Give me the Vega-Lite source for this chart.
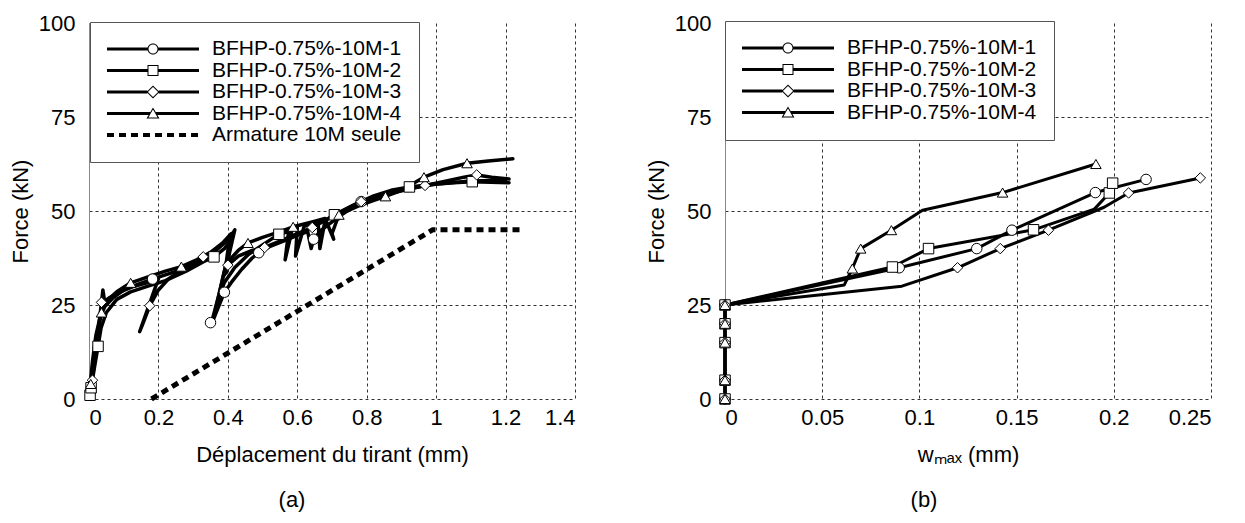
{
  "$schema": "https://vega.github.io/schema/vega-lite/v6.json",
  "background": "white",
  "padding": {"left": 9, "top": 12, "right": 5, "bottom": 5},
  "spacing": 70,
  "config": {
    "view": {"stroke": null},
    "font": "Liberation Sans",
    "axis": {
      "labelFont": "Liberation Sans", "titleFont": "Liberation Sans",
      "labelFontSize": 22, "titleFontSize": 22, "titleFontWeight": "normal",
      "labelColor": "black", "titleColor": "black",
      "ticks": false, "grid": true, "gridDash": [3, 3], "gridColor": "#333", "gridWidth": 1
    },
    "legend": {"labelFont": "Liberation Sans"}
  },
  "resolve": {
    "scale": {"shape": "independent"},
    "legend": {"shape": "independent"}
  },
  "datasets": {
    "curves": [
      {"p":"a","s":"BFHP-0.75%-10M-1","i":0,"x":0,"y":0},
      {"p":"a","s":"BFHP-0.75%-10M-1","i":1,"x":0.004,"y":4},
      {"p":"a","s":"BFHP-0.75%-10M-1","i":2,"x":0.01,"y":10},
      {"p":"a","s":"BFHP-0.75%-10M-1","i":3,"x":0.02,"y":17},
      {"p":"a","s":"BFHP-0.75%-10M-1","i":4,"x":0.03,"y":21},
      {"p":"a","s":"BFHP-0.75%-10M-1","i":5,"x":0.045,"y":24.5},
      {"p":"a","s":"BFHP-0.75%-10M-1","i":6,"x":0.07,"y":27},
      {"p":"a","s":"BFHP-0.75%-10M-1","i":7,"x":0.1,"y":29},
      {"p":"a","s":"BFHP-0.75%-10M-1","i":8,"x":0.14,"y":30.5},
      {"p":"a","s":"BFHP-0.75%-10M-1","i":9,"x":0.183,"y":31.9},
      {"p":"a","s":"BFHP-0.75%-10M-1","i":10,"x":0.22,"y":33},
      {"p":"a","s":"BFHP-0.75%-10M-1","i":11,"x":0.27,"y":34.5},
      {"p":"a","s":"BFHP-0.75%-10M-1","i":12,"x":0.32,"y":36.5},
      {"p":"a","s":"BFHP-0.75%-10M-1","i":13,"x":0.36,"y":39},
      {"p":"a","s":"BFHP-0.75%-10M-1","i":14,"x":0.39,"y":41.5},
      {"p":"a","s":"BFHP-0.75%-10M-1","i":15,"x":0.405,"y":43},
      {"p":"a","s":"BFHP-0.75%-10M-1","i":16,"x":0.395,"y":36},
      {"p":"a","s":"BFHP-0.75%-10M-1","i":17,"x":0.375,"y":28},
      {"p":"a","s":"BFHP-0.75%-10M-1","i":18,"x":0.355,"y":21},
      {"p":"a","s":"BFHP-0.75%-10M-1","i":19,"x":0.35,"y":19.5},
      {"p":"a","s":"BFHP-0.75%-10M-1","i":20,"x":0.36,"y":21.5},
      {"p":"a","s":"BFHP-0.75%-10M-1","i":21,"x":0.375,"y":25},
      {"p":"a","s":"BFHP-0.75%-10M-1","i":22,"x":0.39,"y":28.4},
      {"p":"a","s":"BFHP-0.75%-10M-1","i":23,"x":0.41,"y":31},
      {"p":"a","s":"BFHP-0.75%-10M-1","i":24,"x":0.44,"y":34.5},
      {"p":"a","s":"BFHP-0.75%-10M-1","i":25,"x":0.47,"y":37.5},
      {"p":"a","s":"BFHP-0.75%-10M-1","i":26,"x":0.489,"y":38.9},
      {"p":"a","s":"BFHP-0.75%-10M-1","i":27,"x":0.52,"y":40.5},
      {"p":"a","s":"BFHP-0.75%-10M-1","i":28,"x":0.56,"y":42},
      {"p":"a","s":"BFHP-0.75%-10M-1","i":29,"x":0.6,"y":43.5},
      {"p":"a","s":"BFHP-0.75%-10M-1","i":30,"x":0.63,"y":44.5},
      {"p":"a","s":"BFHP-0.75%-10M-1","i":31,"x":0.64,"y":40},
      {"p":"a","s":"BFHP-0.75%-10M-1","i":32,"x":0.647,"y":42.5},
      {"p":"a","s":"BFHP-0.75%-10M-1","i":33,"x":0.67,"y":45},
      {"p":"a","s":"BFHP-0.75%-10M-1","i":34,"x":0.72,"y":48.5},
      {"p":"a","s":"BFHP-0.75%-10M-1","i":35,"x":0.784,"y":52.5},
      {"p":"a","s":"BFHP-0.75%-10M-1","i":36,"x":0.85,"y":54.5},
      {"p":"a","s":"BFHP-0.75%-10M-1","i":37,"x":0.92,"y":56},
      {"p":"a","s":"BFHP-0.75%-10M-1","i":38,"x":1.0,"y":57.2},
      {"p":"a","s":"BFHP-0.75%-10M-1","i":39,"x":1.1,"y":58},
      {"p":"a","s":"BFHP-0.75%-10M-1","i":40,"x":1.2,"y":58.2},

      {"p":"a","s":"BFHP-0.75%-10M-2","i":0,"x":0,"y":0},
      {"p":"a","s":"BFHP-0.75%-10M-2","i":1,"x":0.003,"y":1},
      {"p":"a","s":"BFHP-0.75%-10M-2","i":2,"x":0.006,"y":3},
      {"p":"a","s":"BFHP-0.75%-10M-2","i":3,"x":0.015,"y":8},
      {"p":"a","s":"BFHP-0.75%-10M-2","i":4,"x":0.026,"y":14},
      {"p":"a","s":"BFHP-0.75%-10M-2","i":5,"x":0.035,"y":19},
      {"p":"a","s":"BFHP-0.75%-10M-2","i":6,"x":0.05,"y":23},
      {"p":"a","s":"BFHP-0.75%-10M-2","i":7,"x":0.08,"y":26.5},
      {"p":"a","s":"BFHP-0.75%-10M-2","i":8,"x":0.12,"y":28.5},
      {"p":"a","s":"BFHP-0.75%-10M-2","i":9,"x":0.17,"y":30},
      {"p":"a","s":"BFHP-0.75%-10M-2","i":10,"x":0.22,"y":31.5},
      {"p":"a","s":"BFHP-0.75%-10M-2","i":11,"x":0.28,"y":34},
      {"p":"a","s":"BFHP-0.75%-10M-2","i":12,"x":0.33,"y":36.5},
      {"p":"a","s":"BFHP-0.75%-10M-2","i":13,"x":0.36,"y":37.8},
      {"p":"a","s":"BFHP-0.75%-10M-2","i":14,"x":0.39,"y":40},
      {"p":"a","s":"BFHP-0.75%-10M-2","i":15,"x":0.41,"y":42.5},
      {"p":"a","s":"BFHP-0.75%-10M-2","i":16,"x":0.415,"y":44},
      {"p":"a","s":"BFHP-0.75%-10M-2","i":17,"x":0.4,"y":38},
      {"p":"a","s":"BFHP-0.75%-10M-2","i":18,"x":0.38,"y":30},
      {"p":"a","s":"BFHP-0.75%-10M-2","i":19,"x":0.365,"y":24},
      {"p":"a","s":"BFHP-0.75%-10M-2","i":20,"x":0.37,"y":26},
      {"p":"a","s":"BFHP-0.75%-10M-2","i":21,"x":0.39,"y":31},
      {"p":"a","s":"BFHP-0.75%-10M-2","i":22,"x":0.42,"y":35},
      {"p":"a","s":"BFHP-0.75%-10M-2","i":23,"x":0.46,"y":38.5},
      {"p":"a","s":"BFHP-0.75%-10M-2","i":24,"x":0.5,"y":41},
      {"p":"a","s":"BFHP-0.75%-10M-2","i":25,"x":0.547,"y":43.8},
      {"p":"a","s":"BFHP-0.75%-10M-2","i":26,"x":0.575,"y":44.5},
      {"p":"a","s":"BFHP-0.75%-10M-2","i":27,"x":0.565,"y":37},
      {"p":"a","s":"BFHP-0.75%-10M-2","i":28,"x":0.585,"y":45},
      {"p":"a","s":"BFHP-0.75%-10M-2","i":29,"x":0.6,"y":45.5},
      {"p":"a","s":"BFHP-0.75%-10M-2","i":30,"x":0.595,"y":38},
      {"p":"a","s":"BFHP-0.75%-10M-2","i":31,"x":0.62,"y":46},
      {"p":"a","s":"BFHP-0.75%-10M-2","i":32,"x":0.66,"y":47},
      {"p":"a","s":"BFHP-0.75%-10M-2","i":33,"x":0.665,"y":40},
      {"p":"a","s":"BFHP-0.75%-10M-2","i":34,"x":0.68,"y":47.5},
      {"p":"a","s":"BFHP-0.75%-10M-2","i":35,"x":0.707,"y":49},
      {"p":"a","s":"BFHP-0.75%-10M-2","i":36,"x":0.76,"y":51.5},
      {"p":"a","s":"BFHP-0.75%-10M-2","i":37,"x":0.82,"y":54},
      {"p":"a","s":"BFHP-0.75%-10M-2","i":38,"x":0.87,"y":55.5},
      {"p":"a","s":"BFHP-0.75%-10M-2","i":39,"x":0.923,"y":56.4},
      {"p":"a","s":"BFHP-0.75%-10M-2","i":40,"x":0.98,"y":57},
      {"p":"a","s":"BFHP-0.75%-10M-2","i":41,"x":1.05,"y":57.5},
      {"p":"a","s":"BFHP-0.75%-10M-2","i":42,"x":1.104,"y":57.8},
      {"p":"a","s":"BFHP-0.75%-10M-2","i":43,"x":1.21,"y":57.5},

      {"p":"a","s":"BFHP-0.75%-10M-3","i":0,"x":0,"y":0},
      {"p":"a","s":"BFHP-0.75%-10M-3","i":1,"x":0.005,"y":2},
      {"p":"a","s":"BFHP-0.75%-10M-3","i":2,"x":0.01,"y":5},
      {"p":"a","s":"BFHP-0.75%-10M-3","i":3,"x":0.02,"y":14},
      {"p":"a","s":"BFHP-0.75%-10M-3","i":4,"x":0.03,"y":21},
      {"p":"a","s":"BFHP-0.75%-10M-3","i":5,"x":0.036,"y":25.7},
      {"p":"a","s":"BFHP-0.75%-10M-3","i":6,"x":0.04,"y":29},
      {"p":"a","s":"BFHP-0.75%-10M-3","i":7,"x":0.045,"y":26},
      {"p":"a","s":"BFHP-0.75%-10M-3","i":8,"x":0.06,"y":27},
      {"p":"a","s":"BFHP-0.75%-10M-3","i":9,"x":0.09,"y":28.5},
      {"p":"a","s":"BFHP-0.75%-10M-3","i":10,"x":0.13,"y":30},
      {"p":"a","s":"BFHP-0.75%-10M-3","i":11,"x":0.17,"y":31},
      {"p":"a","s":"BFHP-0.75%-10M-3","i":12,"x":0.2,"y":32},
      {"p":"a","s":"BFHP-0.75%-10M-3","i":13,"x":0.146,"y":17.9},
      {"p":"a","s":"BFHP-0.75%-10M-3","i":14,"x":0.155,"y":20},
      {"p":"a","s":"BFHP-0.75%-10M-3","i":15,"x":0.175,"y":24.8},
      {"p":"a","s":"BFHP-0.75%-10M-3","i":16,"x":0.2,"y":29},
      {"p":"a","s":"BFHP-0.75%-10M-3","i":17,"x":0.23,"y":32},
      {"p":"a","s":"BFHP-0.75%-10M-3","i":18,"x":0.27,"y":34.5},
      {"p":"a","s":"BFHP-0.75%-10M-3","i":19,"x":0.329,"y":37.8},
      {"p":"a","s":"BFHP-0.75%-10M-3","i":20,"x":0.37,"y":40},
      {"p":"a","s":"BFHP-0.75%-10M-3","i":21,"x":0.41,"y":43.5},
      {"p":"a","s":"BFHP-0.75%-10M-3","i":22,"x":0.42,"y":45},
      {"p":"a","s":"BFHP-0.75%-10M-3","i":23,"x":0.405,"y":39},
      {"p":"a","s":"BFHP-0.75%-10M-3","i":24,"x":0.395,"y":33.5},
      {"p":"a","s":"BFHP-0.75%-10M-3","i":25,"x":0.4,"y":35.6},
      {"p":"a","s":"BFHP-0.75%-10M-3","i":26,"x":0.43,"y":38},
      {"p":"a","s":"BFHP-0.75%-10M-3","i":27,"x":0.47,"y":39.5},
      {"p":"a","s":"BFHP-0.75%-10M-3","i":28,"x":0.506,"y":40.3},
      {"p":"a","s":"BFHP-0.75%-10M-3","i":29,"x":0.55,"y":42},
      {"p":"a","s":"BFHP-0.75%-10M-3","i":30,"x":0.6,"y":44},
      {"p":"a","s":"BFHP-0.75%-10M-3","i":31,"x":0.643,"y":45.6},
      {"p":"a","s":"BFHP-0.75%-10M-3","i":32,"x":0.7,"y":48.5},
      {"p":"a","s":"BFHP-0.75%-10M-3","i":33,"x":0.784,"y":52.5},
      {"p":"a","s":"BFHP-0.75%-10M-3","i":34,"x":0.86,"y":54.5},
      {"p":"a","s":"BFHP-0.75%-10M-3","i":35,"x":0.93,"y":56},
      {"p":"a","s":"BFHP-0.75%-10M-3","i":36,"x":0.968,"y":56.8},
      {"p":"a","s":"BFHP-0.75%-10M-3","i":37,"x":1.03,"y":58},
      {"p":"a","s":"BFHP-0.75%-10M-3","i":38,"x":1.08,"y":59},
      {"p":"a","s":"BFHP-0.75%-10M-3","i":39,"x":1.117,"y":59.6},
      {"p":"a","s":"BFHP-0.75%-10M-3","i":40,"x":1.16,"y":59},
      {"p":"a","s":"BFHP-0.75%-10M-3","i":41,"x":1.21,"y":58.5},

      {"p":"a","s":"BFHP-0.75%-10M-4","i":0,"x":0,"y":0},
      {"p":"a","s":"BFHP-0.75%-10M-4","i":1,"x":0.005,"y":4},
      {"p":"a","s":"BFHP-0.75%-10M-4","i":2,"x":0.012,"y":10},
      {"p":"a","s":"BFHP-0.75%-10M-4","i":3,"x":0.02,"y":15},
      {"p":"a","s":"BFHP-0.75%-10M-4","i":4,"x":0.028,"y":19},
      {"p":"a","s":"BFHP-0.75%-10M-4","i":5,"x":0.036,"y":23},
      {"p":"a","s":"BFHP-0.75%-10M-4","i":6,"x":0.05,"y":26},
      {"p":"a","s":"BFHP-0.75%-10M-4","i":7,"x":0.08,"y":28.5},
      {"p":"a","s":"BFHP-0.75%-10M-4","i":8,"x":0.12,"y":30.9},
      {"p":"a","s":"BFHP-0.75%-10M-4","i":9,"x":0.17,"y":32.5},
      {"p":"a","s":"BFHP-0.75%-10M-4","i":10,"x":0.22,"y":34},
      {"p":"a","s":"BFHP-0.75%-10M-4","i":11,"x":0.266,"y":35.2},
      {"p":"a","s":"BFHP-0.75%-10M-4","i":12,"x":0.31,"y":37},
      {"p":"a","s":"BFHP-0.75%-10M-4","i":13,"x":0.35,"y":39},
      {"p":"a","s":"BFHP-0.75%-10M-4","i":14,"x":0.385,"y":41.5},
      {"p":"a","s":"BFHP-0.75%-10M-4","i":15,"x":0.41,"y":44},
      {"p":"a","s":"BFHP-0.75%-10M-4","i":16,"x":0.4,"y":37},
      {"p":"a","s":"BFHP-0.75%-10M-4","i":17,"x":0.39,"y":33},
      {"p":"a","s":"BFHP-0.75%-10M-4","i":18,"x":0.405,"y":37},
      {"p":"a","s":"BFHP-0.75%-10M-4","i":19,"x":0.43,"y":39.5},
      {"p":"a","s":"BFHP-0.75%-10M-4","i":20,"x":0.458,"y":41.5},
      {"p":"a","s":"BFHP-0.75%-10M-4","i":21,"x":0.5,"y":43},
      {"p":"a","s":"BFHP-0.75%-10M-4","i":22,"x":0.55,"y":44.5},
      {"p":"a","s":"BFHP-0.75%-10M-4","i":23,"x":0.588,"y":45.8},
      {"p":"a","s":"BFHP-0.75%-10M-4","i":24,"x":0.64,"y":47},
      {"p":"a","s":"BFHP-0.75%-10M-4","i":25,"x":0.68,"y":48},
      {"p":"a","s":"BFHP-0.75%-10M-4","i":26,"x":0.705,"y":42.5},
      {"p":"a","s":"BFHP-0.75%-10M-4","i":27,"x":0.7,"y":44},
      {"p":"a","s":"BFHP-0.75%-10M-4","i":28,"x":0.72,"y":49},
      {"p":"a","s":"BFHP-0.75%-10M-4","i":29,"x":0.78,"y":51.5},
      {"p":"a","s":"BFHP-0.75%-10M-4","i":30,"x":0.854,"y":53.9},
      {"p":"a","s":"BFHP-0.75%-10M-4","i":31,"x":0.9,"y":55.5},
      {"p":"a","s":"BFHP-0.75%-10M-4","i":32,"x":0.965,"y":59},
      {"p":"a","s":"BFHP-0.75%-10M-4","i":33,"x":1.02,"y":61},
      {"p":"a","s":"BFHP-0.75%-10M-4","i":34,"x":1.089,"y":62.7},
      {"p":"a","s":"BFHP-0.75%-10M-4","i":35,"x":1.15,"y":63.3},
      {"p":"a","s":"BFHP-0.75%-10M-4","i":36,"x":1.221,"y":63.9},

      {"p":"b","s":"BFHP-0.75%-10M-1","i":0,"x":0,"y":0},
      {"p":"b","s":"BFHP-0.75%-10M-1","i":1,"x":0,"y":25},
      {"p":"b","s":"BFHP-0.75%-10M-1","i":2,"x":0.0896,"y":34.9},
      {"p":"b","s":"BFHP-0.75%-10M-1","i":3,"x":0.1295,"y":40},
      {"p":"b","s":"BFHP-0.75%-10M-1","i":4,"x":0.1476,"y":44.9},
      {"p":"b","s":"BFHP-0.75%-10M-1","i":5,"x":0.1905,"y":54.9},
      {"p":"b","s":"BFHP-0.75%-10M-1","i":6,"x":0.2166,"y":58.4},

      {"p":"b","s":"BFHP-0.75%-10M-2","i":0,"x":0,"y":0},
      {"p":"b","s":"BFHP-0.75%-10M-2","i":1,"x":0,"y":25},
      {"p":"b","s":"BFHP-0.75%-10M-2","i":2,"x":0.0861,"y":35.1},
      {"p":"b","s":"BFHP-0.75%-10M-2","i":3,"x":0.1047,"y":40},
      {"p":"b","s":"BFHP-0.75%-10M-2","i":4,"x":0.1587,"y":45},
      {"p":"b","s":"BFHP-0.75%-10M-2","i":5,"x":0.19,"y":50.5},
      {"p":"b","s":"BFHP-0.75%-10M-2","i":6,"x":0.1977,"y":54.8},
      {"p":"b","s":"BFHP-0.75%-10M-2","i":7,"x":0.1994,"y":57.4},

      {"p":"b","s":"BFHP-0.75%-10M-3","i":0,"x":0,"y":0},
      {"p":"b","s":"BFHP-0.75%-10M-3","i":1,"x":0,"y":25},
      {"p":"b","s":"BFHP-0.75%-10M-3","i":2,"x":0.091,"y":30},
      {"p":"b","s":"BFHP-0.75%-10M-3","i":3,"x":0.1196,"y":34.9},
      {"p":"b","s":"BFHP-0.75%-10M-3","i":4,"x":0.1416,"y":40},
      {"p":"b","s":"BFHP-0.75%-10M-3","i":5,"x":0.1664,"y":44.9},
      {"p":"b","s":"BFHP-0.75%-10M-3","i":6,"x":0.195,"y":51},
      {"p":"b","s":"BFHP-0.75%-10M-3","i":7,"x":0.2076,"y":54.8},
      {"p":"b","s":"BFHP-0.75%-10M-3","i":8,"x":0.2445,"y":58.8},

      {"p":"b","s":"BFHP-0.75%-10M-4","i":0,"x":0,"y":0},
      {"p":"b","s":"BFHP-0.75%-10M-4","i":1,"x":0,"y":25},
      {"p":"b","s":"BFHP-0.75%-10M-4","i":2,"x":0.0613,"y":30.3},
      {"p":"b","s":"BFHP-0.75%-10M-4","i":3,"x":0.0655,"y":34.7},
      {"p":"b","s":"BFHP-0.75%-10M-4","i":4,"x":0.0698,"y":40},
      {"p":"b","s":"BFHP-0.75%-10M-4","i":5,"x":0.0856,"y":44.9},
      {"p":"b","s":"BFHP-0.75%-10M-4","i":6,"x":0.1016,"y":50.2},
      {"p":"b","s":"BFHP-0.75%-10M-4","i":7,"x":0.1428,"y":54.9},
      {"p":"b","s":"BFHP-0.75%-10M-4","i":8,"x":0.1908,"y":62.5}
    ],
    "arm": [
      {"s":"Armature 10M seule","i":0,"x":0.18,"y":0},
      {"s":"Armature 10M seule","i":1,"x":0.99,"y":45},
      {"s":"Armature 10M seule","i":2,"x":1.25,"y":45}
    ],
    "keyA": [
      {"s":"BFHP-0.75%-10M-1"},
      {"s":"BFHP-0.75%-10M-2"},
      {"s":"BFHP-0.75%-10M-3"},
      {"s":"BFHP-0.75%-10M-4"},
      {"s":"Armature 10M seule"}
    ],
    "keyB": [
      {"s":"BFHP-0.75%-10M-1"},
      {"s":"BFHP-0.75%-10M-2"},
      {"s":"BFHP-0.75%-10M-3"},
      {"s":"BFHP-0.75%-10M-4"}
    ],
    "marks": [
      {"p":"a","s":"BFHP-0.75%-10M-1","x":0.005,"y":2},
      {"p":"a","s":"BFHP-0.75%-10M-1","x":0.183,"y":31.9},
      {"p":"a","s":"BFHP-0.75%-10M-1","x":0.35,"y":20.3},
      {"p":"a","s":"BFHP-0.75%-10M-1","x":0.39,"y":28.4},
      {"p":"a","s":"BFHP-0.75%-10M-1","x":0.489,"y":38.9},
      {"p":"a","s":"BFHP-0.75%-10M-1","x":0.647,"y":42.5},
      {"p":"a","s":"BFHP-0.75%-10M-1","x":0.784,"y":52.5},
      {"p":"a","s":"BFHP-0.75%-10M-2","x":0.003,"y":1},
      {"p":"a","s":"BFHP-0.75%-10M-2","x":0.006,"y":3},
      {"p":"a","s":"BFHP-0.75%-10M-2","x":0.026,"y":14},
      {"p":"a","s":"BFHP-0.75%-10M-2","x":0.36,"y":37.8},
      {"p":"a","s":"BFHP-0.75%-10M-2","x":0.547,"y":43.8},
      {"p":"a","s":"BFHP-0.75%-10M-2","x":0.707,"y":49},
      {"p":"a","s":"BFHP-0.75%-10M-2","x":0.923,"y":56.4},
      {"p":"a","s":"BFHP-0.75%-10M-2","x":1.104,"y":57.8},
      {"p":"a","s":"BFHP-0.75%-10M-3","x":0.01,"y":5},
      {"p":"a","s":"BFHP-0.75%-10M-3","x":0.036,"y":25.7},
      {"p":"a","s":"BFHP-0.75%-10M-3","x":0.175,"y":24.8},
      {"p":"a","s":"BFHP-0.75%-10M-3","x":0.329,"y":37.8},
      {"p":"a","s":"BFHP-0.75%-10M-3","x":0.4,"y":35.6},
      {"p":"a","s":"BFHP-0.75%-10M-3","x":0.506,"y":40.3},
      {"p":"a","s":"BFHP-0.75%-10M-3","x":0.643,"y":45.6},
      {"p":"a","s":"BFHP-0.75%-10M-3","x":0.784,"y":52.5},
      {"p":"a","s":"BFHP-0.75%-10M-3","x":0.968,"y":56.8},
      {"p":"a","s":"BFHP-0.75%-10M-3","x":1.117,"y":59.6},
      {"p":"a","s":"BFHP-0.75%-10M-4","x":0.005,"y":4},
      {"p":"a","s":"BFHP-0.75%-10M-4","x":0.036,"y":23},
      {"p":"a","s":"BFHP-0.75%-10M-4","x":0.12,"y":30.9},
      {"p":"a","s":"BFHP-0.75%-10M-4","x":0.266,"y":35.2},
      {"p":"a","s":"BFHP-0.75%-10M-4","x":0.458,"y":41.5},
      {"p":"a","s":"BFHP-0.75%-10M-4","x":0.588,"y":45.8},
      {"p":"a","s":"BFHP-0.75%-10M-4","x":0.72,"y":49},
      {"p":"a","s":"BFHP-0.75%-10M-4","x":0.854,"y":53.9},
      {"p":"a","s":"BFHP-0.75%-10M-4","x":0.965,"y":59},
      {"p":"a","s":"BFHP-0.75%-10M-4","x":1.089,"y":62.7},

      {"p":"b","s":"BFHP-0.75%-10M-1","x":0,"y":0},
      {"p":"b","s":"BFHP-0.75%-10M-1","x":0,"y":5},
      {"p":"b","s":"BFHP-0.75%-10M-1","x":0,"y":15},
      {"p":"b","s":"BFHP-0.75%-10M-1","x":0,"y":20},
      {"p":"b","s":"BFHP-0.75%-10M-1","x":0,"y":25},
      {"p":"b","s":"BFHP-0.75%-10M-1","x":0.0896,"y":34.9},
      {"p":"b","s":"BFHP-0.75%-10M-1","x":0.1295,"y":40},
      {"p":"b","s":"BFHP-0.75%-10M-1","x":0.1476,"y":44.9},
      {"p":"b","s":"BFHP-0.75%-10M-1","x":0.1905,"y":54.9},
      {"p":"b","s":"BFHP-0.75%-10M-1","x":0.2166,"y":58.4},
      {"p":"b","s":"BFHP-0.75%-10M-2","x":0,"y":0},
      {"p":"b","s":"BFHP-0.75%-10M-2","x":0,"y":5},
      {"p":"b","s":"BFHP-0.75%-10M-2","x":0,"y":15},
      {"p":"b","s":"BFHP-0.75%-10M-2","x":0,"y":20},
      {"p":"b","s":"BFHP-0.75%-10M-2","x":0,"y":25},
      {"p":"b","s":"BFHP-0.75%-10M-2","x":0.0861,"y":35.1},
      {"p":"b","s":"BFHP-0.75%-10M-2","x":0.1047,"y":40},
      {"p":"b","s":"BFHP-0.75%-10M-2","x":0.1587,"y":45},
      {"p":"b","s":"BFHP-0.75%-10M-2","x":0.1977,"y":54.8},
      {"p":"b","s":"BFHP-0.75%-10M-2","x":0.1994,"y":57.4},
      {"p":"b","s":"BFHP-0.75%-10M-3","x":0,"y":0},
      {"p":"b","s":"BFHP-0.75%-10M-3","x":0,"y":5},
      {"p":"b","s":"BFHP-0.75%-10M-3","x":0,"y":15},
      {"p":"b","s":"BFHP-0.75%-10M-3","x":0,"y":20},
      {"p":"b","s":"BFHP-0.75%-10M-3","x":0,"y":25},
      {"p":"b","s":"BFHP-0.75%-10M-3","x":0.1196,"y":34.9},
      {"p":"b","s":"BFHP-0.75%-10M-3","x":0.1416,"y":40},
      {"p":"b","s":"BFHP-0.75%-10M-3","x":0.1664,"y":44.9},
      {"p":"b","s":"BFHP-0.75%-10M-3","x":0.2076,"y":54.8},
      {"p":"b","s":"BFHP-0.75%-10M-3","x":0.2445,"y":58.8},
      {"p":"b","s":"BFHP-0.75%-10M-4","x":0,"y":0},
      {"p":"b","s":"BFHP-0.75%-10M-4","x":0,"y":5},
      {"p":"b","s":"BFHP-0.75%-10M-4","x":0,"y":15},
      {"p":"b","s":"BFHP-0.75%-10M-4","x":0,"y":20},
      {"p":"b","s":"BFHP-0.75%-10M-4","x":0,"y":25},
      {"p":"b","s":"BFHP-0.75%-10M-4","x":0.0655,"y":34.7},
      {"p":"b","s":"BFHP-0.75%-10M-4","x":0.0698,"y":40},
      {"p":"b","s":"BFHP-0.75%-10M-4","x":0.0856,"y":44.9},
      {"p":"b","s":"BFHP-0.75%-10M-4","x":0.1428,"y":54.9},
      {"p":"b","s":"BFHP-0.75%-10M-4","x":0.1908,"y":62.5}
    ]
  },
  "hconcat": [
    {
      "width": 486, "height": 376,
      "title": {"text": "(a)", "orient": "bottom", "anchor": "middle", "dx": -40, "offset": 25, "fontSize": 22, "fontWeight": "normal", "font": "Liberation Sans", "color": "black"},
      "resolve": {"scale": {"shape": "independent"}, "legend": {"shape": "independent"}},
      "layer": [
        {
          "data": {"name": "curves"},
          "transform": [{"filter": "datum.p === 'a'"}],
          "mark": {"type": "line", "color": "black", "strokeWidth": 3.5, "strokeJoin": "round", "strokeCap": "round"},
          "encoding": {
            "x": {"field": "x", "type": "quantitative", "scale": {"domain": [0, 1.4], "nice": false},
              "axis": {"title": "Déplacement du tirant (mm)", "values": [0, 0.2, 0.4, 0.6, 0.8, 1, 1.2, 1.4], "format": "~g", "domain": false, "labelPadding": 8, "titlePadding": 16}},
            "y": {"field": "y", "type": "quantitative", "scale": {"domain": [0, 100], "nice": false},
              "axis": {"title": "Force (kN)", "values": [0, 25, 50, 75, 100], "domain": true, "domainColor": "#888", "domainWidth": 1, "labelPadding": 14, "titlePadding": 6,
                "gridOpacity": {"condition": {"test": "datum.value === 100", "value": 0}, "value": 1}}},
            "order": {"field": "i", "type": "quantitative"},
            "detail": {"field": "s", "type": "nominal"}
          }
        },
        {
          "data": {"name": "arm"},
          "mark": {"type": "line", "color": "black", "strokeWidth": 5, "strokeCap": "butt", "strokeDash": [7, 5]},
          "encoding": {
            "x": {"field": "x", "type": "quantitative"},
            "y": {"field": "y", "type": "quantitative"},
            "order": {"field": "i", "type": "quantitative"}
          }
        },
        {
          "data": {"name": "marks"},
          "transform": [{"filter": "datum.p === 'a'"}],
          "mark": {"type": "point", "filled": true, "fill": "white", "stroke": "black", "strokeWidth": 1, "size": 110, "opacity": 1},
          "encoding": {
            "x": {"field": "x", "type": "quantitative"},
            "y": {"field": "y", "type": "quantitative"},
            "shape": {"field": "s", "type": "nominal",
              "scale": {"domain": ["BFHP-0.75%-10M-1", "BFHP-0.75%-10M-2", "BFHP-0.75%-10M-3", "BFHP-0.75%-10M-4"], "range": ["circle", "square", "diamond", "triangle-up"]},
              "legend": null}
          }
        },
        {
          "data": {"name": "keyA"},
          "mark": {"type": "point", "filled": true, "color": "black", "opacity": 0},
          "encoding": {
            "shape": {"field": "s", "type": "nominal",
              "scale": {"domain": ["BFHP-0.75%-10M-1", "BFHP-0.75%-10M-2", "BFHP-0.75%-10M-3", "BFHP-0.75%-10M-4", "Armature 10M seule"],
                "range": [
                  "M-1,-0.0326H-0.11V0.0326H-1Z M0.11,-0.0326H1V0.0326H0.11Z M-0.1196,0A0.1196,0.1196 0 1,1 0.1196,0A0.1196,0.1196 0 1,1 -0.1196,0Z M-0.0978,0A0.0978,0.0978 0 1,0 0.0978,0A0.0978,0.0978 0 1,0 -0.0978,0Z",
                  "M-1,-0.0326H-0.11V0.0326H-1Z M0.11,-0.0326H1V0.0326H0.11Z M-0.1196,-0.1196H0.1196V0.1196H-0.1196Z M-0.0978,-0.0978V0.0978H0.0978V-0.0978Z",
                  "M-1,-0.0326H-0.125V0.0326H-1Z M0.125,-0.0326H1V0.0326H0.125Z M0,-0.1413L0.1413,0L0,0.1413L-0.1413,0Z M0,-0.1107L-0.1107,0L0,0.1107L0.1107,0Z",
                  "M-1,-0.0326H-0.066V0.0326H-1Z M0.066,-0.0326H1V0.0326H0.066Z M0,-0.1304L0.1413,0.1087L-0.1413,0.1087Z M0,-0.087L-0.1,0.087L0.1,0.087Z",
                  "M-1,-0.0435H-0.848V0.0435H-1Z M-0.739,-0.0435H-0.587V0.0435H-0.739Z M-0.478,-0.0435H-0.326V0.0435H-0.478Z M-0.217,-0.0435H-0.065V0.0435H-0.217Z M0.044,-0.0435H0.196V0.0435H0.044Z M0.305,-0.0435H0.457V0.0435H0.305Z M0.566,-0.0435H0.718V0.0435H0.566Z M0.827,-0.0435H0.979V0.0435H0.827Z"
                ]},
              "legend": {"orient": "none", "legendX": 1, "legendY": -1, "title": null, "padding": 17, "strokeColor": "#555", "fillColor": "white",
                "symbolSize": 8464, "symbolFillColor": "black", "symbolStrokeColor": "transparent", "symbolStrokeWidth": 0, "symbolOpacity": 1,
                "labelFontSize": 21, "labelColor": "black", "labelOffset": 13, "labelLimit": 400, "clipHeight": 20, "rowPadding": 0.5}}
          }
        },
        {
          "mark": {"type": "rule", "color": "black", "strokeWidth": 1.5},
          "encoding": {"x": {"datum": 1.4}}
        }
      ]
    },
    {
      "width": 486, "height": 376,
      "title": {"text": "(b)", "orient": "bottom", "anchor": "middle", "dx": -44, "offset": 25, "fontSize": 22, "fontWeight": "normal", "font": "Liberation Sans", "color": "black"},
      "resolve": {"scale": {"shape": "independent"}, "legend": {"shape": "independent"}},
      "layer": [
        {
          "data": {"name": "curves"},
          "transform": [{"filter": "datum.p === 'b'"}],
          "mark": {"type": "line", "color": "black", "strokeWidth": 3, "strokeJoin": "round"},
          "encoding": {
            "x": {"field": "x", "type": "quantitative", "scale": {"domain": [0, 0.25], "nice": false},
              "axis": {"title": "wₘₐₓ (mm)", "values": [0, 0.05, 0.1, 0.15, 0.2, 0.25], "format": "~g", "domain": false, "labelPadding": 8, "titlePadding": 16}},
            "y": {"field": "y", "type": "quantitative", "scale": {"domain": [0, 100], "nice": false},
              "axis": {"title": "Force (kN)", "values": [0, 25, 50, 75, 100], "domain": true, "domainColor": "#888", "domainWidth": 1, "labelPadding": 14, "titlePadding": 6,
                "gridOpacity": {"condition": {"test": "datum.value === 100", "value": 0}, "value": 1}}},
            "order": {"field": "i", "type": "quantitative"},
            "detail": {"field": "s", "type": "nominal"}
          }
        },
        {
          "data": {"name": "marks"},
          "transform": [{"filter": "datum.p === 'b'"}],
          "mark": {"type": "point", "filled": true, "fill": "white", "stroke": "black", "strokeWidth": 1, "size": 110, "opacity": 1},
          "encoding": {
            "x": {"field": "x", "type": "quantitative"},
            "y": {"field": "y", "type": "quantitative"},
            "shape": {"field": "s", "type": "nominal",
              "scale": {"domain": ["BFHP-0.75%-10M-1", "BFHP-0.75%-10M-2", "BFHP-0.75%-10M-3", "BFHP-0.75%-10M-4"], "range": ["circle", "square", "diamond", "triangle-up"]},
              "legend": null}
          }
        },
        {
          "data": {"name": "keyB"},
          "mark": {"type": "point", "filled": true, "color": "black", "opacity": 0},
          "encoding": {
            "shape": {"field": "s", "type": "nominal",
              "scale": {"domain": ["BFHP-0.75%-10M-1", "BFHP-0.75%-10M-2", "BFHP-0.75%-10M-3", "BFHP-0.75%-10M-4"],
                "range": [
                  "M-1,-0.0326H-0.11V0.0326H-1Z M0.11,-0.0326H1V0.0326H0.11Z M-0.1196,0A0.1196,0.1196 0 1,1 0.1196,0A0.1196,0.1196 0 1,1 -0.1196,0Z M-0.0978,0A0.0978,0.0978 0 1,0 0.0978,0A0.0978,0.0978 0 1,0 -0.0978,0Z",
                  "M-1,-0.0326H-0.11V0.0326H-1Z M0.11,-0.0326H1V0.0326H0.11Z M-0.1196,-0.1196H0.1196V0.1196H-0.1196Z M-0.0978,-0.0978V0.0978H0.0978V-0.0978Z",
                  "M-1,-0.0326H-0.125V0.0326H-1Z M0.125,-0.0326H1V0.0326H0.125Z M0,-0.1413L0.1413,0L0,0.1413L-0.1413,0Z M0,-0.1107L-0.1107,0L0,0.1107L0.1107,0Z",
                  "M-1,-0.0326H-0.066V0.0326H-1Z M0.066,-0.0326H1V0.0326H0.066Z M0,-0.1304L0.1413,0.1087L-0.1413,0.1087Z M0,-0.087L-0.1,0.087L0.1,0.087Z"
                ]},
              "legend": {"orient": "none", "legendX": 0, "legendY": -2, "title": null, "padding": 17, "strokeColor": "#555", "fillColor": "white",
                "symbolSize": 8464, "symbolFillColor": "black", "symbolStrokeColor": "transparent", "symbolStrokeWidth": 0, "symbolOpacity": 1,
                "labelFontSize": 21, "labelColor": "black", "labelOffset": 13, "labelLimit": 400, "clipHeight": 20, "rowPadding": 0.5}}
          }
        },
        {
          "mark": {"type": "rule", "color": "black", "strokeWidth": 1.5},
          "encoding": {"x": {"datum": 0.25}}
        }
      ]
    }
  ]
}
